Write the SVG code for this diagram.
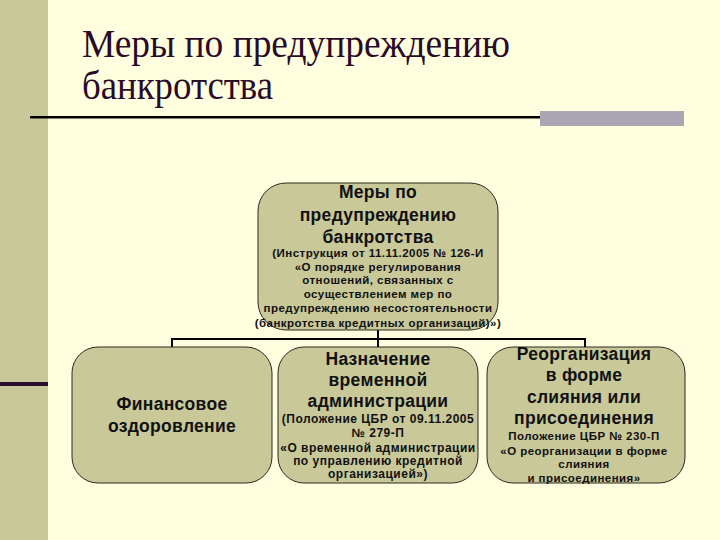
<svg xmlns="http://www.w3.org/2000/svg" width="720" height="540" viewBox="0 0 720 540">
<style>
.box{fill:#c8c899;stroke:#2a2a20;stroke-width:1}
.t{font-family:"Liberation Sans",Arial,sans-serif;font-weight:bold;fill:#111;text-anchor:middle}
.h{font-size:17.5px;letter-spacing:0.3px}
.s{font-size:11.5px;letter-spacing:0.45px}
.sm{font-size:12px;letter-spacing:0.5px}
.title{font-family:"Liberation Serif","Times New Roman",serif;font-size:40px;fill:#2a0a28}
.conn{stroke:#000;stroke-width:2;fill:none}
</style>
<rect x="0" y="0" width="720" height="540" fill="#ffffe0"/>
<rect x="0" y="0" width="48" height="540" fill="#c8c899"/>
<rect x="0" y="382" width="48" height="4" fill="#2a1030"/>
<g id="title">
<text class="title" x="82" y="57" textLength="428" lengthAdjust="spacingAndGlyphs">Меры по предупреждению</text>
<text class="title" x="82" y="99" textLength="191" lengthAdjust="spacingAndGlyphs">банкротства</text>
<rect x="30" y="116" width="512" height="2.5" fill="#000"/>
<rect x="540" y="111" width="144" height="15" fill="#aaa7b2"/>
</g>
<g id="connectors">
<path class="conn" d="M378 330V339M172 347V339H585V347M378 339V347"/>
</g>
<g id="top">
<rect class="box" x="258" y="183" width="240" height="147" rx="28"/>
<text class="t h" x="378" y="198">Меры по</text>
<text class="t h" x="378" y="221">предупреждению</text>
<text class="t h" x="378" y="243">банкротства</text>
<text class="t s" x="378" y="257">(Инструкция от 11.11.2005 № 126-И</text>
<text class="t s" x="378" y="271">«О порядке регулирования</text>
<text class="t s" x="378" y="284">отношений, связанных с</text>
<text class="t s" x="378" y="298">осуществлением мер по</text>
<text class="t s" x="378" y="312">предупреждению несостоятельности</text>
<text class="t s" x="378" y="327">(банкротства кредитных организаций)»)</text>
</g>
<g id="left">
<rect class="box" x="72" y="347" width="200" height="136" rx="26"/>
<text class="t h" x="172" y="410">Финансовое</text>
<text class="t h" x="172" y="432">оздоровление</text>
</g>
<g id="middle">
<rect class="box" x="278" y="347" width="200" height="136" rx="26"/>
<text class="t h" x="378" y="365">Назначение</text>
<text class="t h" x="378" y="386">временной</text>
<text class="t h" x="378" y="407">администрации</text>
<text class="t sm" x="378" y="423">(Положение ЦБР от 09.11.2005</text>
<text class="t sm" x="378" y="437">№ 279-П</text>
<text class="t sm" x="378" y="452">«О временной администрации</text>
<text class="t sm" x="378" y="465">по управлению кредитной</text>
<text class="t sm" x="378" y="478">организацией»)</text>
</g>
<g id="right">
<rect class="box" x="487" y="347" width="198" height="136" rx="26"/>
<text class="t h" x="584" y="360">Реорганизация</text>
<text class="t h" x="584" y="381">в форме</text>
<text class="t h" x="584" y="403">слияния или</text>
<text class="t h" x="584" y="424">присоединения</text>
<text class="t s" x="584" y="440">Положение ЦБР № 230-П</text>
<text class="t s" x="584" y="455">«О реорганизации в форме</text>
<text class="t s" x="584" y="468">слияния</text>
<text class="t s" x="584" y="482">и присоединения»</text>
</g>
</svg>
